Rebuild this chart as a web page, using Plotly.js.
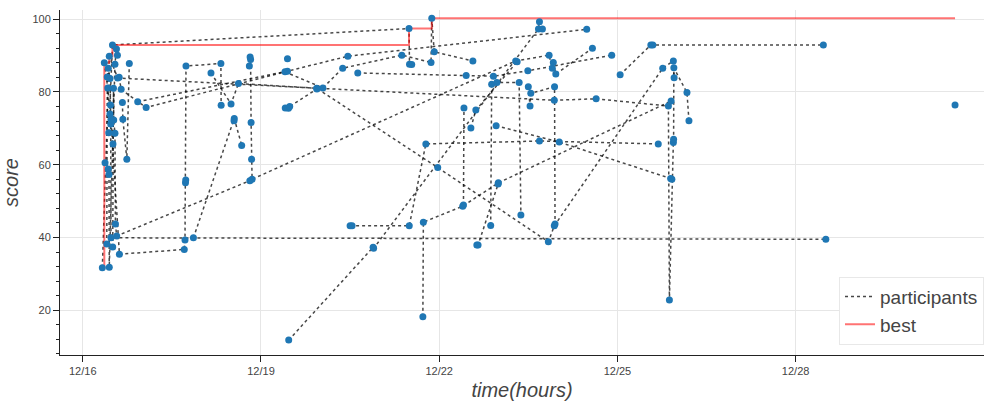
<!DOCTYPE html>
<html><head><meta charset="utf-8">
<script src="https://cdn.plot.ly/plotly-3.0.1.min.js"></script>
<style>html,body{margin:0;padding:0;background:#fff}#chart{width:984px;height:403px}</style>
</head><body><div id="chart"></div>
<script>
// time is in hours after 12/16 00:00
const START = Date.UTC(2017, 11, 16);

const p01_hours = [10.5, 12.0, 131.8, 132.0, 132.9];
const p01_scores = [68.8, 92.9, 97.4, 87.6, 87.5];
const p02_hours = [14.7, 15.5, 25.6, 81.7, 97.0, 105.0, 128.9, 140.7, 141.0, 142.0, 157.6];
const p02_scores = [84.0, 80.7, 75.7, 85.5, 81.1, 86.5, 90.1, 88.1, 100.2, 91.0, 88.5];
const p03_hours = [9.7, 9.9, 10.3, 11.0, 11.2, 11.3, 11.4, 300.2];
const p03_scores = [38.2, 84.1, 86.5, 83.7, 76.4, 71.2, 39.9, 39.5];
const p04_hours = [12.1, 12.2, 12.4, 12.5, 13.0, 13.2, 13.7, 67.5];
const p04_scores = [37.4, 65.7, 81.0, 72.3, 68.6, 43.7, 40.4, 55.6];
const p05_hours = [9.0, 10.3, 10.6, 10.7, 13.0, 13.6, 14.0];
const p05_scores = [60.5, 58.8, 57.3, 31.8, 87.6, 91.8, 90.1];
const p06_hours = [8.7, 10.1, 11.0, 11.4, 14.8, 41.0, 41.3, 41.5, 41.6, 41.7, 55.8, 55.9];
const p06_scores = [88.0, 81.1, 73.9, 72.5, 35.4, 36.7, 39.3, 55.0, 55.8, 87.1, 87.8, 76.3];
const p07_hours = [16.0, 16.2, 17.8, 18.8];
const p07_scores = [77.1, 72.5, 61.5, 87.8];
const p08_hours = [7.9, 10.7, 14.1, 190.5, 207.4, 236.6, 237.0, 238.0, 238.6, 238.7, 238.8, 244.1, 244.9];
const p08_scores = [31.7, 89.8, 83.8, 77.7, 78.1, 76.1, 22.8, 56.0, 66.1, 67.0, 86.6, 79.8, 72.1];
const p09_hours = [22.2, 82.7, 107.1, 203.6];
const p09_scores = [77.3, 85.7, 89.8, 97.2];
const p10_hours = [44.7, 61.1, 61.2, 64.2];
const p10_scores = [39.9, 72.1, 72.7, 65.3];
const p11_hours = [51.8, 59.9, 62.9, 94.5, 143.4, 188.1, 190.5, 234.3, 238.6, 238.9];
const p11_scores = [85.2, 76.7, 82.3, 81.0, 59.2, 38.8, 43.2, 86.5, 88.5, 83.9];
const p12_hours = [111.1, 154.9, 165.9, 179.8, 213.7];
const p12_scores = [85.2, 84.5, 84.3, 85.8, 90.1];
const p13_hours = [83.2, 117.3, 117.5, 184.1, 184.5, 185.7];
const p13_scores = [11.8, 37.3, 37.0, 97.3, 99.3, 97.3];
const p14_hours = [108.0, 108.8, 131.9, 138.6, 184.5, 232.5];
const p14_scores = [43.2, 43.2, 43.2, 65.7, 66.5, 65.7];
const p15_hours = [137.4, 137.6, 153.5, 167.9, 237.7];
const p15_scores = [18.2, 44.2, 48.6, 55.0, 77.5];
const p16_hours = [153.8, 154.0];
const p16_scores = [48.9, 75.6];
const p17_hours = [67.3, 67.6, 67.8, 68.0, 68.2, 68.4, 174.9, 188.4, 189.7, 190.1, 191.1, 205.9];
const p17_scores = [87.1, 89.6, 88.9, 71.6, 61.5, 56.0, 88.5, 90.1, 86.5, 88.1, 84.9, 92.0];
const p18_hours = [159.2, 159.7, 167.8];
const p18_scores = [37.9, 37.9, 54.7];
const p19_hours = [164.8, 165.2, 167.3, 176.3, 177.0];
const p19_scores = [43.3, 82.1, 82.6, 82.6, 46.2];
const p20_hours = [156.8, 158.8, 175.5];
const p20_scores = [70.1, 75.0, 88.3];
const p21_hours = [180.0, 180.7, 181.0, 190.6, 190.8];
const p21_scores = [81.4, 76.1, 79.6, 81.4, 43.7];
const p22_hours = [167.0, 192.5, 237.5];
const p22_scores = [70.7, 66.2, 56.2];
const p23_hours = [217.1, 229.5, 230.3, 299.2];
const p23_scores = [84.7, 92.9, 92.9, 92.9];
const p24_hours = [352.4];
const p24_scores = [76.4];
const p25_hours = [81.8, 83.1, 83.6, 94.6];
const p25_scores = [75.6, 75.5, 76.0, 80.8];
const p26_hours = [82.7];
const p26_scores = [89.1];

const best_hours = [7.9, 8.7, 10.7, 12.0, 131.8, 141.0, 352.4];
const best_scores = [31.7, 88.0, 89.8, 92.9, 97.4, 100.2, 100.2];

const tick_dates = ['2017-12-16', '2017-12-19', '2017-12-22', '2017-12-25', '2017-12-28'];
const tick_labels = ['12/16', '12/19', '12/22', '12/25', '12/28'];

const participants = [
  [p01_hours, p01_scores], [p02_hours, p02_scores], [p03_hours, p03_scores],
  [p04_hours, p04_scores], [p05_hours, p05_scores], [p06_hours, p06_scores],
  [p07_hours, p07_scores], [p08_hours, p08_scores], [p09_hours, p09_scores],
  [p10_hours, p10_scores], [p11_hours, p11_scores], [p12_hours, p12_scores],
  [p13_hours, p13_scores], [p14_hours, p14_scores], [p15_hours, p15_scores],
  [p16_hours, p16_scores], [p17_hours, p17_scores], [p18_hours, p18_scores],
  [p19_hours, p19_scores], [p20_hours, p20_scores], [p21_hours, p21_scores],
  [p22_hours, p22_scores], [p23_hours, p23_scores], [p24_hours, p24_scores],
  [p25_hours, p25_scores], [p26_hours, p26_scores]
];

const toMs = h => START + h * 3600000;

const traces = [];
participants.forEach((p, i) => {
  traces.push({
    type: 'scatter', mode: 'lines',
    x: p[0].map(toMs), y: p[1],
    name: 'participants', legendgroup: 'participants', showlegend: i === 0,
    line: {color: 'rgba(0,0,0,0.72)', width: 1.5, dash: '3px,3px'},
    hoverinfo: 'skip'
  });
});
traces.push({
  type: 'scatter', mode: 'lines',
  x: best_hours.map(toMs), y: best_scores,
  name: 'best',
  line: {color: 'rgba(255,0,0,0.55)', width: 2, shape: 'hv'},
  hoverinfo: 'skip'
});
const allX = [], allY = [];
participants.forEach(p => { p[0].forEach(h => allX.push(toMs(h))); p[1].forEach(s => allY.push(s)); });
traces.push({
  type: 'scatter', mode: 'markers',
  x: allX, y: allY, showlegend: false,
  marker: {color: '#1f77b4', size: 7, line: {width: 0}},
  hoverinfo: 'skip'
});

const layout = {
  width: 984, height: 403,
  margin: {l: 60, r: 0, t: 10, b: 48},
  paper_bgcolor: '#fff', plot_bgcolor: '#fff',
  font: {family: 'Liberation Sans, Arial, sans-serif', color: '#444', size: 11},
  showlegend: true,
  xaxis: {
    type: 'date', range: [toMs(-9.2), toMs(364.1)],
    tickmode: 'array', tickvals: tick_dates, ticktext: tick_labels,
    showgrid: true, gridcolor: '#e6e6e6', gridwidth: 1,
    showline: true, linecolor: '#222', linewidth: 1,
    ticks: 'outside', ticklen: 6, tickcolor: '#222',
    zeroline: false, automargin: false,
    tickfont: {size: 11, color: '#444'},
    title: {text: '<i>time(hours)</i>', font: {size: 20, color: '#444'}, standoff: 6}
  },
  yaxis: {
    range: [7.7, 102.5], tick0: 0, dtick: 20,
    showgrid: true, gridcolor: '#e6e6e6', gridwidth: 1,
    showline: true, linecolor: '#222', linewidth: 1,
    ticks: 'outside', ticklen: 6, tickcolor: '#222',
    minor: {dtick: 4, ticks: 'outside', ticklen: 3, tickcolor: '#222', showgrid: false},
    zeroline: false, automargin: false,
    tickfont: {size: 11, color: '#444'},
    title: {text: '<i>score</i>', font: {size: 20, color: '#444'}, standoff: 8}
  },
  legend: {
    x: 1, xanchor: 'right', y: 0.03, yanchor: 'bottom',
    bgcolor: '#fff', bordercolor: '#e8e8e8', borderwidth: 1,
    font: {size: 19, color: '#444'}, itemwidth: 30, tracegroupgap: 0
  }
};

Plotly.newPlot('chart', traces, layout, {displayModeBar: false, staticPlot: true});
</script>
</body></html>
